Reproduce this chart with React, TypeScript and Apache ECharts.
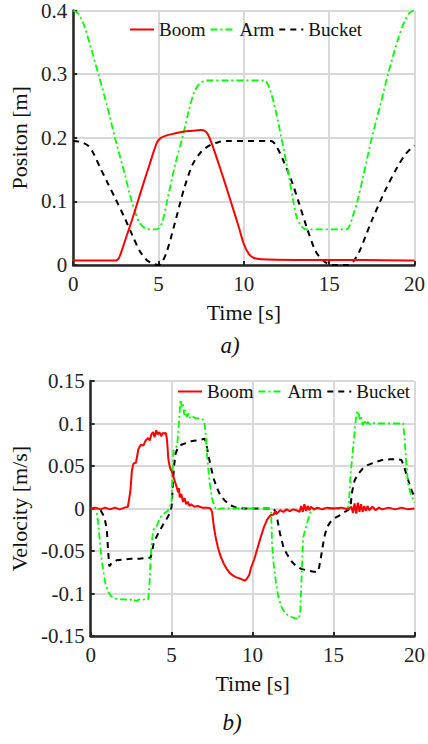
import React, { useEffect, useRef } from "react";
import * as echarts from "echarts";

// Time axis ticks (s)
const timeTicks = [0, 5, 10, 15, 20];

// a) Position [m] — [time s, position m]
const boomPos = [[0,0.007],[2.5,0.007],[2.7,0.012],[3.0,0.035],[3.5,0.075],[4.0,0.118],[4.5,0.16],[4.9,0.192],[5.1,0.199],[5.4,0.203],[6.0,0.207],[6.5,0.21],[7.0,0.211],[7.5,0.212],[7.7,0.211],[7.9,0.205],[8.2,0.185],[8.7,0.145],[9.2,0.103],[9.7,0.06],[10.0,0.033],[10.3,0.017],[10.6,0.011],[11.0,0.009],[13,0.008],[15,0.008],[17,0.008],[20,0.007]];
const armPos = [[0,0.4],[0.3,0.395],[0.6,0.38],[1.0,0.345],[1.5,0.298],[2.0,0.249],[2.45,0.2],[3.0,0.145],[3.4,0.103],[3.7,0.078],[3.9,0.066],[4.2,0.058],[4.5,0.056],[4.9,0.056],[5.2,0.066],[5.5,0.1],[6.0,0.16],[6.4,0.2],[6.8,0.245],[7.1,0.272],[7.4,0.285],[7.8,0.29],[9,0.29],[11.2,0.29],[11.5,0.278],[11.8,0.25],[12.2,0.2],[12.6,0.145],[12.9,0.1],[13.1,0.075],[13.4,0.06],[13.7,0.056],[16.0,0.056],[16.2,0.062],[16.4,0.078],[16.65,0.1],[17.0,0.14],[17.5,0.2],[18.0,0.252],[18.45,0.3],[19.0,0.352],[19.4,0.382],[19.7,0.396],[20,0.4]];
const bucketPos = [[0,0.195],[0.5,0.193],[0.9,0.187],[1.2,0.175],[1.6,0.152],[2.0,0.13],[2.5,0.103],[3.0,0.075],[3.5,0.045],[3.9,0.022],[4.3,0.008],[4.7,0.002],[5.0,0.0],[5.2,0.004],[5.5,0.022],[6.0,0.07],[6.5,0.12],[7.0,0.158],[7.5,0.178],[8.0,0.188],[8.5,0.193],[9,0.195],[11.6,0.195],[11.9,0.187],[12.3,0.165],[12.8,0.132],[13.2,0.1],[13.7,0.058],[14.2,0.022],[14.6,0.008],[15.0,0.001],[15.3,0],[16.1,0],[16.4,0.005],[16.75,0.02],[17.5,0.07],[18.3,0.118],[19.0,0.154],[19.5,0.175],[20,0.188]];

// b) Velocity [m/s] — [time s, velocity m/s]
const boomVel = [[0,0],[0.3,0.001],[0.6,-0.001],[0.9,0.001],[1.2,-0.001],[1.5,0.001],[1.8,-0.001],[2.1,0.001],[2.3,0.002],[2.45,0.02],[2.55,0.045],[2.65,0.053],[2.8,0.054],[2.95,0.07],[3.1,0.075],[3.25,0.074],[3.4,0.08],[3.55,0.083],[3.65,0.08],[3.75,0.087],[3.85,0.09],[3.95,0.084],[4.05,0.092],[4.15,0.087],[4.25,0.09],[4.35,0.085],[4.45,0.089],[4.55,0.088],[4.65,0.089],[4.72,0.08],[4.8,0.058],[4.9,0.048],[5.0,0.044],[5.1,0.038],[5.2,0.032],[5.3,0.026],[5.4,0.019],[5.45,0.024],[5.5,0.013],[5.6,0.017],[5.7,0.008],[5.8,0.012],[5.9,0.005],[6.0,0.008],[6.1,0.003],[6.2,0.005],[6.4,0.002],[6.6,0.003],[6.9,0.001],[7.2,0.001],[7.4,0],[7.5,-0.004],[7.6,-0.02],[7.7,-0.032],[7.85,-0.045],[8.0,-0.055],[8.2,-0.064],[8.4,-0.071],[8.6,-0.076],[8.8,-0.079],[9.0,-0.081],[9.3,-0.083],[9.55,-0.085],[9.7,-0.081],[9.8,-0.078],[9.9,-0.07],[10.1,-0.06],[10.3,-0.047],[10.5,-0.034],[10.7,-0.022],[10.9,-0.013],[11.1,-0.008],[11.3,-0.007],[11.4,-0.003],[11.5,-0.006],[11.7,-0.002],[11.9,-0.004],[12.1,-0.001],[12.3,-0.003],[12.5,-0.001],[12.7,-0.002],[12.9,-0.004],[13.0,0.003],[13.1,-0.004],[13.2,0.005],[13.3,-0.003],[13.4,0.003],[13.5,-0.002],[13.6,0.002],[13.8,-0.001],[14.0,0.001],[14.3,-0.001],[14.6,0.001],[15.0,0],[15.5,0.001],[15.9,-0.001],[16.1,0.002],[16.2,-0.005],[16.3,0.006],[16.4,-0.006],[16.5,0.007],[16.6,-0.004],[16.7,0.005],[16.8,-0.004],[16.9,0.003],[17.0,-0.003],[17.1,0.003],[17.2,-0.002],[17.4,0.002],[17.6,-0.002],[17.8,0.001],[18.0,-0.001],[18.4,0.001],[18.8,-0.001],[19.2,0.001],[19.6,-0.001],[20,0]];
const armVel = [[0,0],[0.35,0],[0.45,-0.015],[0.55,-0.035],[0.65,-0.055],[0.75,-0.07],[0.9,-0.087],[1.05,-0.097],[1.25,-0.103],[1.5,-0.106],[1.8,-0.107],[2.1,-0.107],[2.4,-0.108],[2.6,-0.106],[2.8,-0.109],[3.0,-0.107],[3.2,-0.108],[3.4,-0.106],[3.55,-0.107],[3.62,-0.095],[3.68,-0.07],[3.75,-0.045],[3.85,-0.027],[3.95,-0.022],[4.1,-0.02],[4.25,-0.012],[4.4,-0.008],[4.6,-0.005],[4.75,-0.003],[4.9,0.002],[5.0,0.01],[5.05,0.04],[5.12,0.068],[5.25,0.071],[5.35,0.075],[5.45,0.1],[5.55,0.128],[5.62,0.12],[5.7,0.124],[5.78,0.11],[5.85,0.116],[5.95,0.108],[6.05,0.112],[6.15,0.106],[6.3,0.108],[6.5,0.106],[6.8,0.106],[7.0,0.104],[7.1,0.09],[7.2,0.06],[7.35,0.03],[7.5,0.012],[7.65,0.002],[7.8,-0.002],[8.0,0],[9,0],[10,0],[11.0,0],[11.15,-0.005],[11.2,-0.04],[11.3,-0.065],[11.45,-0.088],[11.6,-0.105],[11.8,-0.116],[12.0,-0.123],[12.3,-0.127],[12.6,-0.129],[12.85,-0.13],[12.95,-0.12],[13.05,-0.07],[13.12,-0.035],[13.25,-0.025],[13.4,-0.015],[13.55,-0.005],[13.7,-0.002],[14,0],[15,0],[15.85,0],[15.95,0.005],[16.05,0.04],[16.15,0.06],[16.25,0.08],[16.35,0.1],[16.45,0.115],[16.55,0.112],[16.62,0.105],[16.7,0.108],[16.8,0.098],[16.9,0.104],[17.0,0.098],[17.1,0.102],[17.25,0.099],[17.4,0.101],[17.6,0.1],[18.0,0.1],[18.5,0.1],[19.0,0.1],[19.3,0.1],[19.4,0.08],[19.5,0.05],[19.6,0.03],[19.75,0.018],[20,0.007]];
const bucketVel = [[0,0],[0.55,0],[0.7,-0.005],[0.85,-0.01],[1.0,-0.025],[1.08,-0.05],[1.15,-0.068],[1.3,-0.064],[1.6,-0.061],[2.0,-0.06],[2.5,-0.059],[3.0,-0.059],[3.5,-0.058],[3.7,-0.058],[3.8,-0.05],[3.9,-0.04],[4.1,-0.032],[4.3,-0.025],[4.5,-0.018],[4.7,-0.012],[4.9,-0.005],[5.0,0.002],[5.08,0.03],[5.15,0.05],[5.25,0.065],[5.4,0.072],[5.6,0.075],[5.9,0.077],[6.2,0.079],[6.5,0.08],[6.8,0.081],[7.05,0.082],[7.15,0.075],[7.3,0.06],[7.45,0.047],[7.6,0.035],[7.8,0.024],[8.0,0.016],[8.3,0.009],[8.6,0.004],[9.0,0.001],[9.5,0],[11.3,0],[11.45,-0.005],[11.6,-0.02],[11.7,-0.03],[11.9,-0.045],[12.1,-0.053],[12.4,-0.062],[12.7,-0.068],[13.0,-0.071],[13.4,-0.073],[13.7,-0.074],[14.0,-0.075],[14.1,-0.07],[14.2,-0.06],[14.3,-0.048],[14.45,-0.032],[14.6,-0.022],[14.8,-0.016],[15.0,-0.012],[15.3,-0.009],[15.6,-0.005],[15.9,-0.002],[16.05,0.003],[16.15,0.02],[16.3,0.033],[16.5,0.04],[16.8,0.047],[17.1,0.051],[17.5,0.054],[18.0,0.057],[18.5,0.058],[19.0,0.058],[19.2,0.057],[19.35,0.05],[19.5,0.04],[19.7,0.028],[19.85,0.02],[20,0.014]];

const seriesNames = ["Boom", "Arm", "Bucket"];

const FONT = "Liberation Serif";
const AXIS_COLOR = "#262626";
const GRID_COLOR = "#d9d9d9";

export default function App() {
  const ref = useRef<HTMLDivElement>(null);

  useEffect(() => {
    if (!ref.current) return;
    const chart = echarts.init(ref.current, null, { renderer: "svg" });

    const xAxisBase = (gridIndex: number) => ({
      type: "value",
      gridIndex,
      min: timeTicks[0],
      max: timeTicks[timeTicks.length - 1],
      interval: 5,
      name: "Time [s]",
      nameLocation: "middle",
      nameGap: 36,
      nameTextStyle: { fontFamily: FONT, fontSize: 22, color: "#111" },
      axisLine: { show: true, onZero: false, lineStyle: { color: AXIS_COLOR, width: 2.5 } },
      axisTick: { show: true, inside: true, length: 4, lineStyle: { color: AXIS_COLOR, width: 2 } },
      axisLabel: { fontFamily: FONT, fontSize: 21, color: "#222", margin: 8 },
      splitLine: { show: true, lineStyle: { color: GRID_COLOR, width: 2 } },
    });

    const yAxisBase = (gridIndex: number, name: string, min: number, max: number, interval: number, nameGap: number) => ({
      type: "value",
      gridIndex,
      min,
      max,
      interval,
      name,
      nameLocation: "middle",
      nameGap,
      nameTextStyle: { fontFamily: FONT, fontSize: 22, color: "#111" },
      axisLine: { show: true, onZero: false, lineStyle: { color: AXIS_COLOR, width: 2.5 } },
      axisTick: { show: true, inside: true, length: 4, lineStyle: { color: AXIS_COLOR, width: 2 } },
      axisLabel: { fontFamily: FONT, fontSize: 21, color: "#222", margin: 6 },
      splitLine: { show: true, lineStyle: { color: GRID_COLOR, width: 2 } },
    });

    const mk = (name: string, data: number[][], idx: number, color: string, width: number, type: any, smooth: any) => ({
      name,
      type: "line",
      xAxisIndex: idx,
      yAxisIndex: idx,
      data,
      showSymbol: false,
      symbol: "none",
      smooth,
      lineStyle: { color, width, type },
      itemStyle: { color },
      z: name === "Boom" ? 4 : name === "Arm" ? 3 : 2,
    });

    const dashDot = [7, 3, 2, 3];
    const dashed = [6, 5];

    const legendBase = (left: number, top: number) => ({
      left,
      top,
      data: seriesNames,
      itemWidth: 24,
      itemHeight: 14,
      itemGap: 4,
      padding: 0,
      itemStyle: { opacity: 0 },
      textStyle: { fontFamily: FONT, fontSize: 19, color: "#111" },
      selectedMode: false,
    });

    chart.setOption({
      animation: false,
      backgroundColor: "#fff",
      textStyle: { fontFamily: FONT },
      grid: [
        { left: 69, top: 10, width: 348, height: 255 },
        { left: 87, top: 381, width: 330, height: 255 },
      ],
      xAxis: [xAxisBase(0), xAxisBase(1)],
      yAxis: [
        yAxisBase(0, "Positon [m]", 0, 0.4, 0.1, 37),
        yAxisBase(1, "Velocity [m/s]", -0.15, 0.15, 0.05, 54),
      ],
      legend: [legendBase(129, 20), legendBase(177, 382)],
      series: [
        mk("Boom", boomPos, 0, "#ff0000", 2, "solid", 0.3),
        mk("Arm", armPos, 0, "#00ff00", 1.8, dashDot, 0.3),
        mk("Bucket", bucketPos, 0, "#000000", 2, dashed, 0.3),
        mk("Boom", boomVel, 1, "#ff0000", 2, "solid", false),
        mk("Arm", armVel, 1, "#00ff00", 1.8, dashDot, false),
        mk("Bucket", bucketVel, 1, "#000000", 2, dashed, false),
      ],
      graphic: [
        {
          type: "text",
          x: 230,
          y: 345,
          style: { text: "a)", fontFamily: FONT, fontSize: 23, fontStyle: "italic", fill: "#111", textAlign: "center", textVerticalAlign: "middle" },
        },
        {
          type: "text",
          x: 232,
          y: 722,
          style: { text: "b)", fontFamily: FONT, fontSize: 23, fontStyle: "italic", fill: "#111", textAlign: "center", textVerticalAlign: "middle" },
        },
      ],
    });

    return () => chart.dispose();
  }, []);

  return (
    <div
      ref={ref}
      style={{ position: "fixed", left: 0, top: 0, width: 428, height: 744, background: "#fff" }}
    />
  );
}
